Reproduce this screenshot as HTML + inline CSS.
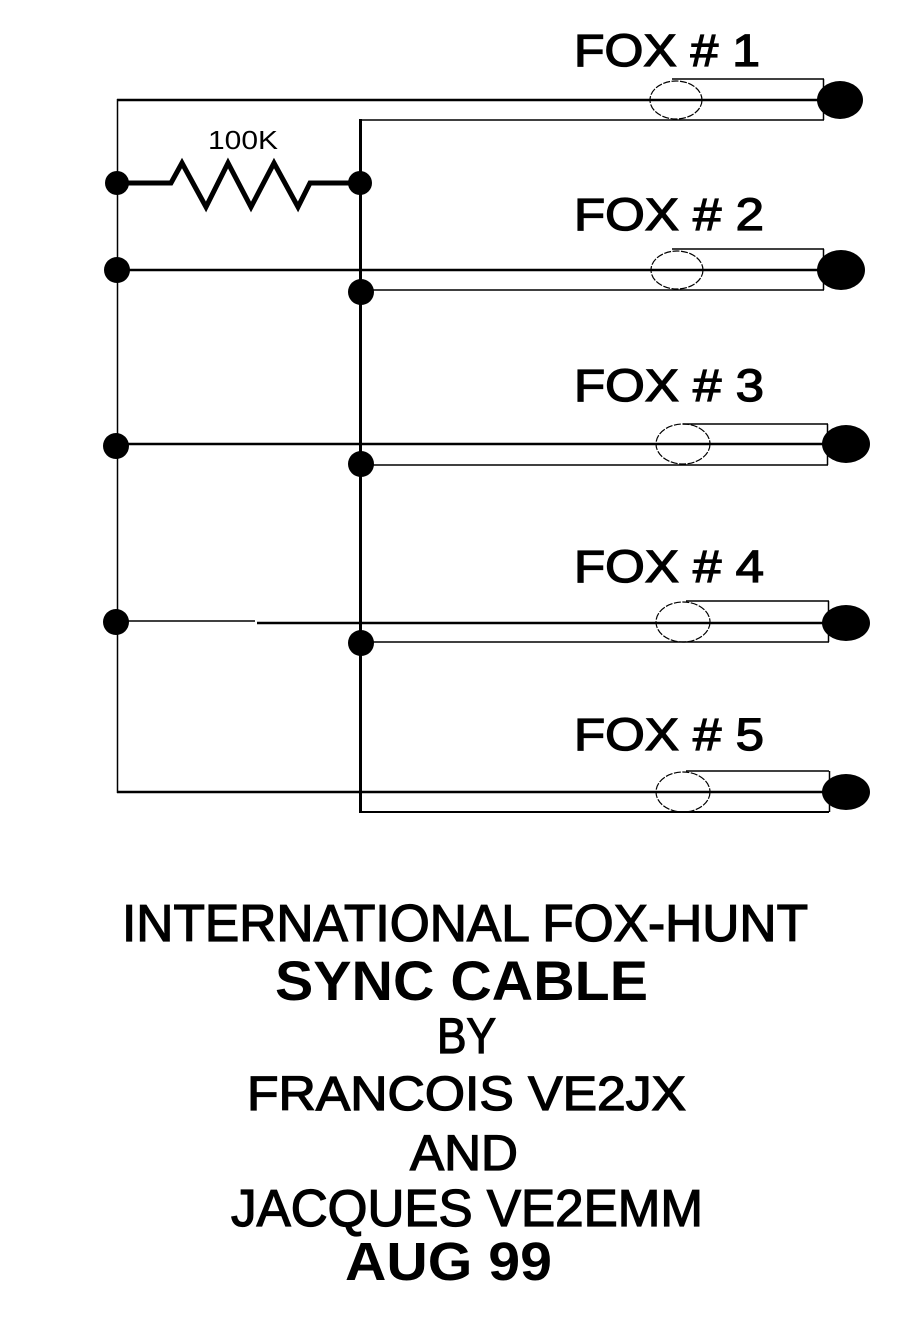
<!DOCTYPE html>
<html><head><meta charset="utf-8"><style>
html,body{margin:0;padding:0;background:#fff;}
svg{display:block;}
text{font-family:"Liberation Sans",Arial,sans-serif;fill:#000;}
.m{stroke:#000;stroke-width:1.3;}
</style></head><body>
<svg width="906" height="1329" viewBox="0 0 906 1329" xmlns="http://www.w3.org/2000/svg">
<rect width="906" height="1329" fill="#fff"/>
<line x1="117.5" y1="99" x2="117.5" y2="793" stroke="#000" stroke-width="1.5"/>
<line x1="360.5" y1="119" x2="360.5" y2="813" stroke="#000" stroke-width="3"/>
<polyline points="118,183 171,183 182,163 206,207 228,163 251,207 274,163 298,207 310,183 360,183" fill="none" stroke="#000" stroke-width="5" stroke-linejoin="miter"/>
<text x="208" y="149" font-size="26" textLength="70" lengthAdjust="spacingAndGlyphs">100K</text>
<circle cx="117" cy="183" r="12"/><circle cx="360" cy="183" r="12"/>

<g stroke="#000" fill="none">
<line x1="117" y1="100" x2="826" y2="100" stroke-width="2.5"/>
<line x1="360" y1="120" x2="824" y2="120" stroke-width="1.5"/>
<line x1="672" y1="79" x2="824" y2="79" stroke-width="1.5"/>
<line x1="823.5" y1="79" x2="823.5" y2="120" stroke-width="1.5"/>
<ellipse cx="676" cy="100" rx="26" ry="19" stroke-width="1.2" stroke-dasharray="7 1.5"/>
<line x1="117" y1="270" x2="826" y2="270" stroke-width="2.5"/>
<line x1="360" y1="290" x2="824" y2="290" stroke-width="1.5"/>
<line x1="672" y1="249" x2="824" y2="249" stroke-width="1.5"/>
<line x1="823.5" y1="249" x2="823.5" y2="290" stroke-width="1.5"/>
<ellipse cx="677" cy="270" rx="26" ry="19" stroke-width="1.2" stroke-dasharray="7 1.5"/>
<line x1="117" y1="444" x2="830" y2="444" stroke-width="2.5"/>
<line x1="360" y1="465" x2="828" y2="465" stroke-width="1.5"/>
<line x1="683" y1="424" x2="828" y2="424" stroke-width="1.5"/>
<line x1="827.5" y1="424" x2="827.5" y2="465" stroke-width="1.5"/>
<ellipse cx="683" cy="444" rx="27" ry="20" stroke-width="1.2" stroke-dasharray="7 1.5"/>
<line x1="117" y1="621" x2="255" y2="621" stroke-width="1.5"/>
<line x1="257" y1="623" x2="830" y2="623" stroke-width="2.5"/>
<line x1="360" y1="642" x2="829" y2="642" stroke-width="1.5"/>
<line x1="686" y1="601" x2="829" y2="601" stroke-width="1.5"/>
<line x1="828.5" y1="601" x2="828.5" y2="642" stroke-width="1.5"/>
<ellipse cx="683" cy="622" rx="27" ry="20" stroke-width="1.2" stroke-dasharray="7 1.5"/>
<line x1="117" y1="792" x2="830" y2="792" stroke-width="2.5"/>
<line x1="360" y1="812" x2="829" y2="812" stroke-width="2"/>
<line x1="686" y1="771" x2="829" y2="771" stroke-width="1.5"/>
<line x1="829.5" y1="771" x2="829.5" y2="812" stroke-width="1.5"/>
<ellipse cx="683" cy="792" rx="27" ry="20" stroke-width="1.2" stroke-dasharray="7 1.5"/>
</g>

<circle cx="117" cy="270" r="13"/><circle cx="361" cy="292" r="13"/>
<circle cx="116" cy="446" r="13"/><circle cx="361" cy="464" r="13"/>
<circle cx="116" cy="622" r="13"/><circle cx="361" cy="643" r="13"/>

<ellipse cx="840" cy="100" rx="23" ry="19"/>
<ellipse cx="841" cy="270" rx="24" ry="20"/>
<ellipse cx="846" cy="444" rx="24" ry="19"/>
<ellipse cx="846" cy="623" rx="24" ry="18"/>
<ellipse cx="846" cy="792" rx="24" ry="18"/>

<text class="m" x="574" y="66" font-size="45" textLength="186" lengthAdjust="spacingAndGlyphs">FOX # 1</text>
<text class="m" x="574" y="230" font-size="45" textLength="190" lengthAdjust="spacingAndGlyphs">FOX # 2</text>
<text class="m" x="574" y="401" font-size="45" textLength="190" lengthAdjust="spacingAndGlyphs">FOX # 3</text>
<text class="m" x="574" y="582" font-size="45" textLength="190" lengthAdjust="spacingAndGlyphs">FOX # 4</text>
<text class="m" x="574" y="750" font-size="45" textLength="190" lengthAdjust="spacingAndGlyphs">FOX # 5</text>

<text class="m" x="122" y="941" font-size="52" textLength="686" lengthAdjust="spacingAndGlyphs">INTERNATIONAL FOX-HUNT</text>
<text x="275" y="1000" font-size="56" font-weight="bold" textLength="373" lengthAdjust="spacingAndGlyphs">SYNC CABLE</text>
<text class="m" x="437" y="1053" font-size="50" textLength="59" lengthAdjust="spacingAndGlyphs">BY</text>
<text class="m" x="247" y="1110" font-size="48" textLength="439" lengthAdjust="spacingAndGlyphs">FRANCOIS VE2JX</text>
<text class="m" x="410" y="1170" font-size="50" textLength="108" lengthAdjust="spacingAndGlyphs">AND</text>
<text class="m" x="231" y="1226" font-size="52" textLength="472" lengthAdjust="spacingAndGlyphs">JACQUES VE2EMM</text>
<text x="345" y="1280" font-size="54" font-weight="bold" textLength="207" lengthAdjust="spacingAndGlyphs">AUG 99</text>
</svg>
</body></html>
